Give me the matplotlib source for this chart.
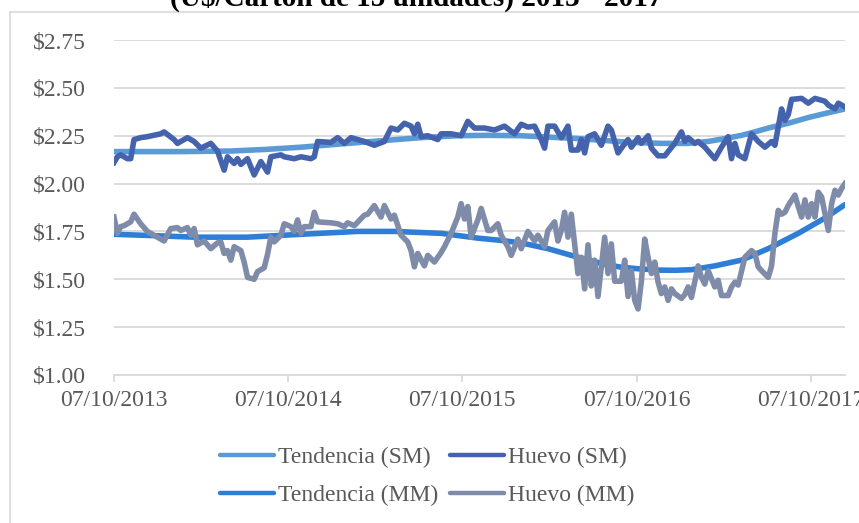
import numpy as np
import pandas as pd
import matplotlib
matplotlib.use('Agg')
import matplotlib.pyplot as plt
import matplotlib.dates as mdates
from matplotlib.patches import Rectangle

plt.rcParams['font.family'] = ['Liberation Serif', 'DejaVu Serif']

start = pd.Timestamp('2013-10-07')
end_week = 219

# weekly index (weeks after 07/10/2013) and price
sm_weeks = [0, 1, 2, 4, 5, 6, 8, 10, 14, 15, 18, 19, 22, 24, 26, 29, 31, 33, 34, 36,
            37, 38, 40, 42, 44, 46, 47, 50, 51, 54, 56, 59, 60, 61, 65, 67, 69, 71, 75, 78,
            81, 83, 85, 87, 89, 90, 91, 92, 94, 97, 98, 101, 104, 106, 108, 111, 114, 117, 120, 122,
            124, 126, 128, 129, 130, 132, 134, 136, 137, 139, 140, 141, 142, 144, 145, 146, 148, 149, 151, 152,
            154, 155, 157, 158, 160, 161, 163, 165, 168, 170, 171, 172, 174, 175, 177, 180, 182, 184, 185, 186,
            187, 189, 191, 193, 195, 197, 198, 200, 201, 202, 203, 206, 208, 210, 213, 214, 216, 217, 219]
sm_huevo = [2.11, 2.14, 2.15, 2.13, 2.13, 2.23, 2.24, 2.245, 2.26, 2.27, 2.23, 2.21, 2.24, 2.22, 2.185, 2.21, 2.17, 2.07, 2.14, 2.105,
            2.13, 2.10, 2.13, 2.045, 2.115, 2.06, 2.14, 2.15, 2.14, 2.13, 2.14, 2.13, 2.14, 2.22, 2.215, 2.24, 2.21, 2.24, 2.22, 2.20,
            2.22, 2.29, 2.28, 2.315, 2.30, 2.26, 2.31, 2.245, 2.25, 2.23, 2.26, 2.26, 2.25, 2.325, 2.29, 2.29, 2.28, 2.30, 2.26, 2.31,
            2.295, 2.30, 2.23, 2.185, 2.30, 2.30, 2.24, 2.30, 2.175, 2.175, 2.23, 2.16, 2.245, 2.26, 2.23, 2.20, 2.30, 2.28, 2.16, 2.185,
            2.23, 2.19, 2.24, 2.21, 2.25, 2.185, 2.145, 2.145, 2.21, 2.27, 2.22, 2.24, 2.21, 2.22, 2.19, 2.13, 2.19, 2.245, 2.13, 2.21,
            2.15, 2.13, 2.26, 2.22, 2.19, 2.22, 2.20, 2.39, 2.33, 2.36, 2.44, 2.445, 2.42, 2.445, 2.43, 2.41, 2.39, 2.42, 2.40]

sm_trend_weeks = [0, 20, 35, 45, 56, 68, 81, 92, 103, 112, 122, 130, 139, 147, 155, 164, 172, 178, 183, 188, 192, 196, 202, 208, 214, 219]
sm_trend = [2.167, 2.167, 2.17, 2.178, 2.19, 2.207, 2.225, 2.24, 2.25, 2.252, 2.25, 2.243, 2.235, 2.225, 2.215, 2.21, 2.21, 2.22, 2.235,
            2.252, 2.27, 2.29, 2.315, 2.345, 2.37, 2.39]

mm_weeks = [0, 1, 2, 3, 5, 6, 8, 10, 12, 15, 17, 19, 20, 22, 23, 24, 25, 27, 29, 31,
            32, 33, 34, 35, 36, 38, 39, 40, 42, 43, 45, 46, 47, 48, 50, 51, 53, 54, 55, 56,
            57, 59, 60, 61, 65, 67, 69, 70, 72, 75, 76, 78, 80, 81, 83, 84, 86, 88, 89, 90,
            91, 93, 94, 96, 98, 99, 101, 103, 104, 105, 106, 107, 109, 110, 112, 113, 115, 116, 118, 119,
            121, 122, 124, 126, 127, 129, 130, 132, 133, 134, 135, 136, 137, 139, 140, 141, 142, 143, 144, 145,
            147, 148, 149, 150, 152, 153, 154, 155, 156, 157, 158, 159, 160, 161, 162, 163, 164, 165, 166, 167,
            168, 170, 171, 172, 173, 175, 176, 177, 178, 180, 181, 182, 184, 185, 186, 187, 189, 191, 192, 193,
            194, 196, 197, 198, 199, 200, 201, 202, 204, 205, 206, 207, 208, 209, 210, 211, 212, 214, 215, 216,
            217, 218, 219]
mm_huevo = [1.825, 1.74, 1.775, 1.78, 1.80, 1.84, 1.79, 1.75, 1.73, 1.70, 1.765, 1.77, 1.755, 1.77, 1.73, 1.765, 1.68, 1.70, 1.66, 1.69,
            1.695, 1.635, 1.65, 1.60, 1.67, 1.65, 1.59, 1.51, 1.50, 1.54, 1.56, 1.63, 1.72, 1.695, 1.73, 1.79, 1.775, 1.75, 1.81, 1.74,
            1.775, 1.775, 1.85, 1.80, 1.795, 1.79, 1.775, 1.795, 1.78, 1.835, 1.84, 1.885, 1.825, 1.885, 1.815, 1.835, 1.73, 1.695, 1.65, 1.565,
            1.635, 1.57, 1.625, 1.59, 1.64, 1.67, 1.74, 1.825, 1.895, 1.815, 1.88, 1.72, 1.81, 1.87, 1.755, 1.755, 1.79, 1.73, 1.67, 1.625,
            1.71, 1.66, 1.75, 1.70, 1.73, 1.67, 1.755, 1.80, 1.70, 1.755, 1.85, 1.72, 1.84, 1.53, 1.615, 1.45, 1.68, 1.465, 1.60, 1.41,
            1.72, 1.53, 1.685, 1.49, 1.49, 1.60, 1.41, 1.545, 1.39, 1.345, 1.49, 1.71, 1.615, 1.53, 1.59, 1.485, 1.425, 1.46, 1.39, 1.45,
            1.425, 1.40, 1.42, 1.46, 1.405, 1.57, 1.51, 1.475, 1.545, 1.46, 1.495, 1.415, 1.415, 1.46, 1.485, 1.47, 1.615, 1.65, 1.635, 1.565,
            1.545, 1.51, 1.57, 1.74, 1.86, 1.84, 1.85, 1.885, 1.94, 1.88, 1.825, 1.915, 1.825, 1.895, 1.825, 1.955, 1.93, 1.755, 1.895, 1.965,
            1.94, 1.975, 2.00]

mm_trend_weeks = [0, 12, 24, 40, 56, 73, 84, 98, 109, 116, 122, 130, 139, 147, 152, 157, 163, 168, 173, 180, 188, 196, 205, 213, 219]
mm_trend = [1.735, 1.728, 1.72, 1.72, 1.735, 1.75, 1.75, 1.74, 1.715, 1.703, 1.69, 1.66, 1.615, 1.578, 1.563, 1.555, 1.548, 1.547, 1.55,
            1.57, 1.60, 1.66, 1.74, 1.82, 1.89]

tick_dates = ['2013-10-07', '2014-10-07', '2015-10-07', '2016-10-07', '2017-10-07']
yticks = [1.00, 1.25, 1.50, 1.75, 2.00, 2.25, 2.50, 2.75]


def to_dates(weeks):
    return start + pd.to_timedelta(np.array(weeks) * 7, unit='D')


fig = plt.figure(figsize=(8.59, 5.23), dpi=100)
ax = fig.add_axes([0.1327, 0.283, 0.851, 0.6405])

fig.patches.append(Rectangle((10 / 859, -0.1), 1.2, 1 - 12 / 523 + 0.1, transform=fig.transFigure,
                             fill=False, edgecolor='#D9D9D9', linewidth=1.2, zorder=0))

l1, = ax.plot(to_dates(sm_trend_weeks), sm_trend, color='#5B9BD5', lw=4.0, solid_capstyle='round',
              solid_joinstyle='round', label='Tendencia (SM)')
l2, = ax.plot(to_dates(sm_weeks), sm_huevo, color='#4563AD', lw=4.0, solid_joinstyle='round', label='Huevo (SM)')
l3, = ax.plot(to_dates(mm_trend_weeks), mm_trend, color='#2E7DD6', lw=4.0, solid_capstyle='round',
              solid_joinstyle='round', label='Tendencia (MM)')
l4, = ax.plot(to_dates(mm_weeks), mm_huevo, color='#7F8CA9', lw=4.0, solid_joinstyle='round', label='Huevo (MM)')

ax.set_ylim(1.0, 2.75)
ax.set_yticks(yticks)
ax.set_yticklabels([f'${v:.2f}' for v in yticks])
ax.set_xlim(start, start + pd.Timedelta(days=end_week * 7))
ax.set_xticks(pd.to_datetime(tick_dates))
ax.xaxis.set_major_formatter(mdates.DateFormatter('%d/%m/%Y'))

ax.grid(axis='y', color='#D9D9D9', lw=1.3)
ax.set_axisbelow(True)
for s in ['top', 'right', 'left']:
    ax.spines[s].set_visible(False)
ax.spines['bottom'].set_color('#D9D9D9')
ax.spines['bottom'].set_linewidth(1.3)
ax.tick_params(axis='y', length=0, pad=20, labelsize=17, labelcolor='#595959')
ax.tick_params(axis='x', length=5, color='#D9D9D9', width=1.3, pad=6, labelsize=17, labelcolor='#595959')

fig.text(0.485, 1 - 6 / 523, '(U$/Cartón de 15 unidades) 2013 - 2017', ha='center', va='baseline',
         fontsize=21, fontweight='bold', color='black')

leg = fig.legend([l1, l3, l2, l4], ['Tendencia (SM)', 'Tendencia (MM)', 'Huevo (SM)', 'Huevo (MM)'],
                 loc='center', bbox_to_anchor=(0.497, 0.089), ncol=2, frameon=False, fontsize=17,
                 labelcolor='#595959', handlelength=2.3, handletextpad=0.15, columnspacing=0.5, labelspacing=0.7)
for h in leg.legend_handles:
    h.set_linewidth(3.2)
    h.set_solid_capstyle('round')

fig.savefig('out.png', dpi=100)
